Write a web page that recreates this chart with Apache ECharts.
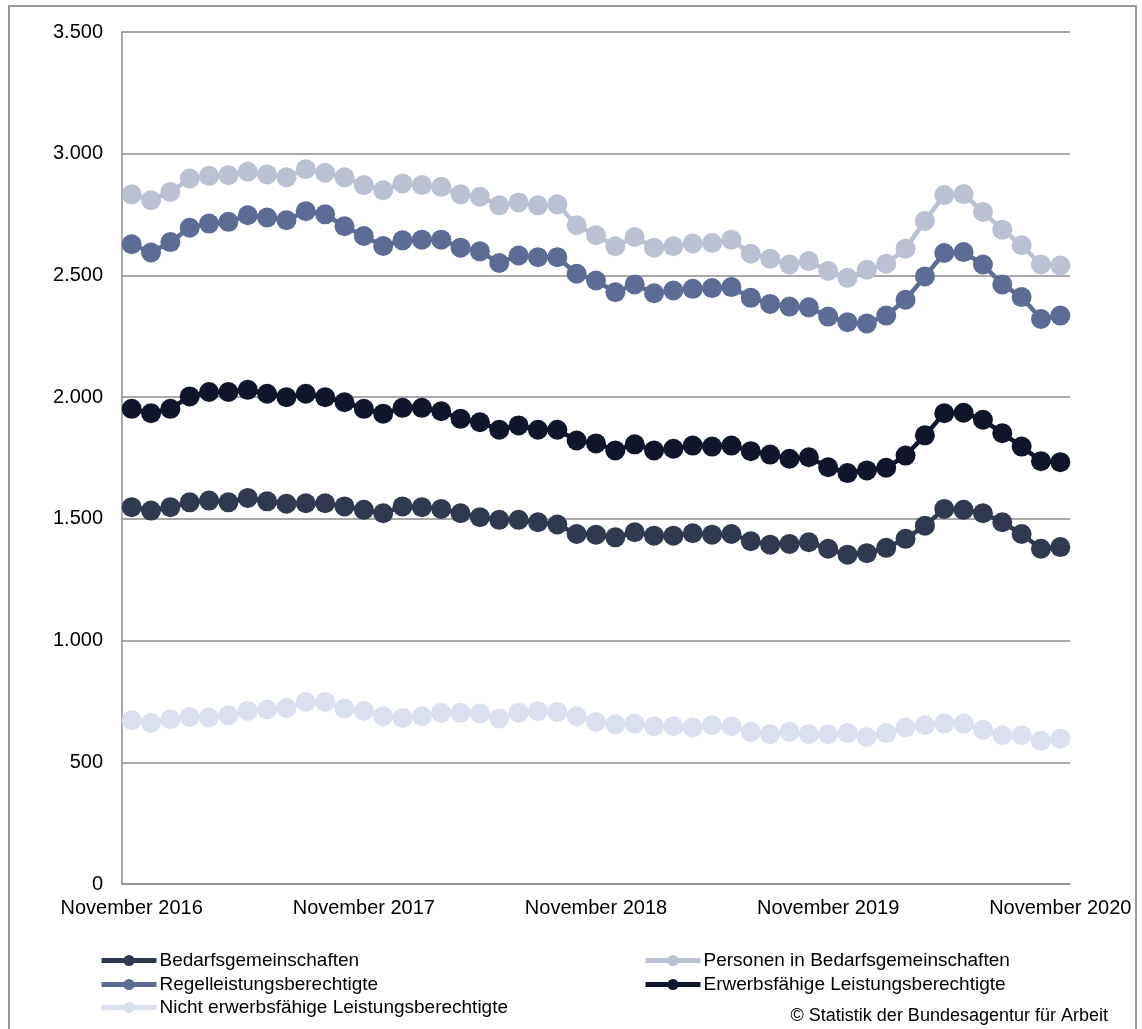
<!DOCTYPE html>
<html>
<head>
<meta charset="utf-8">
<title>Bedarfsgemeinschaften</title>
<script src="https://cdn.jsdelivr.net/npm/echarts@6/dist/echarts.min.js"></script>
<style>
  html, body { margin: 0; padding: 0; background: #fff; }
  #chart { width: 1142px; height: 1029px; }
</style>
</head>
<body>
<div id="chart"></div>
<script>
// Monate November 2016 bis November 2020 (in Tausend)
const monthNames = ['Januar', 'Februar', 'März', 'April', 'Mai', 'Juni', 'Juli', 'August', 'September', 'Oktober', 'November', 'Dezember']
const months = []
for (let i = 0; i < 49; i++) {
  const m = (10 + i) % 12
  const y = 2016 + Math.floor((10 + i) / 12)
  months.push(monthNames[m] + ' ' + y)
}

const bedarfsgemeinschaften = [
  1548, 1534, 1548, 1568, 1575, 1568, 1586, 1572, 1562, 1564, 1564, 1551,
  1537, 1523, 1551, 1548, 1541, 1523, 1507, 1496, 1496, 1486, 1477, 1438,
  1435, 1424, 1445, 1431, 1431, 1441, 1435, 1438, 1408, 1394, 1397, 1404,
  1377, 1353, 1359, 1381, 1418, 1472, 1541, 1537, 1523, 1486, 1438, 1377,
  1384
]
const personen = [
  2833, 2809, 2843, 2898, 2909, 2912, 2926, 2915, 2903, 2936, 2922, 2903,
  2871, 2850, 2878, 2871, 2864, 2833, 2823, 2788, 2800, 2788, 2792, 2706,
  2665, 2620, 2658, 2614, 2620, 2631, 2633, 2647, 2589, 2569, 2545, 2559,
  2518, 2490, 2523, 2548, 2610, 2724, 2830, 2834, 2761, 2688, 2624, 2545,
  2541
]
const regelleistung = [
  2628, 2594, 2637, 2696, 2713, 2720, 2747, 2738, 2727, 2764, 2751, 2702,
  2662, 2621, 2644, 2647, 2647, 2614, 2599, 2551, 2582, 2575, 2575, 2507,
  2479, 2431, 2463, 2427, 2438, 2445, 2448, 2452, 2408, 2383, 2372, 2369,
  2331, 2308, 2303, 2335, 2400, 2496, 2592, 2596, 2545, 2463, 2411, 2321,
  2335
]
const erwerbsfaehige = [
  1952, 1934, 1952, 2003, 2021, 2021, 2030, 2014, 2000, 2014, 2000, 1979,
  1952, 1932, 1956, 1956, 1942, 1911, 1897, 1866, 1884, 1866, 1866, 1822,
  1810, 1781, 1806, 1781, 1788, 1801, 1797, 1801, 1778, 1764, 1747, 1753,
  1712, 1688, 1699, 1710, 1760, 1843, 1934, 1936, 1907, 1852, 1797, 1737,
  1733
]
const nichtErwerbsfaehige = [
  673, 662, 677, 686, 684, 693, 711, 717, 723, 748, 748, 721,
  711, 689, 682, 689, 703, 703, 700, 680, 704, 710, 707, 689,
  666, 656, 659, 648, 648, 643, 652, 648, 625, 615, 625, 615,
  615, 620, 604, 620, 643, 652, 659, 659, 634, 611, 611, 588,
  597
]

const seriesList = [
  { name: 'Bedarfsgemeinschaften', data: bedarfsgemeinschaften, color: '#2f394f' },
  { name: 'Personen in Bedarfsgemeinschaften', data: personen, color: '#b9c1d3' },
  { name: 'Regelleistungsberechtigte', data: regelleistung, color: '#5d6c95' },
  { name: 'Erwerbsfähige Leistungsberechtigte', data: erwerbsfaehige, color: '#0f162b' },
  { name: 'Nicht erwerbsfähige Leistungsberechtigte', data: nichtErwerbsfaehige, color: '#dae0ef' }
]

// Legende: zwei Spalten, jeweils ein Eintrag pro Zeile
const legendSlots = [
  { left: 99, top: 951 },
  { left: 643, top: 951 },
  { left: 99, top: 975 },
  { left: 643, top: 975 },
  { left: 99, top: 998 }
]

const gridColor = '#8c8c8c'
const fontFamily = 'Liberation Sans, Arial, sans-serif'

const chart = echarts.init(document.getElementById('chart'))

chart.setOption({
  animation: false,
  backgroundColor: '#fff',
  grid: { left: 122, right: 72, top: 32, bottom: 145 },
  legend: seriesList.map((s, i) => ({
    left: legendSlots[i].left,
    top: legendSlots[i].top,
    padding: 0,
    itemWidth: 55,
    itemHeight: 14,
    itemGap: 4,
    data: [s.name],
    lineStyle: { width: 5 },
    textStyle: { fontFamily: fontFamily, fontSize: 19, color: '#000', padding: [0, 0, 0, -2] }
  })),
  xAxis: {
    type: 'category',
    data: months,
    boundaryGap: true,
    axisLine: { lineStyle: { color: gridColor, width: 1.5 } },
    axisTick: { interval: 11, length: 6, lineStyle: { color: gridColor, width: 1.5 } },
    axisLabel: {
      interval: 11,
      margin: 14,
      color: '#000',
      fontFamily: fontFamily,
      fontSize: 20
    },
    splitLine: { show: false }
  },
  yAxis: {
    type: 'value',
    min: 0,
    max: 3500,
    interval: 500,
    axisLine: { show: true, lineStyle: { color: gridColor, width: 1.5 } },
    axisTick: { show: false },
    axisLabel: {
      margin: 19,
      color: '#000',
      fontFamily: fontFamily,
      fontSize: 20,
      formatter: v => String(v).replace(/\B(?=(\d{3})+(?!\d))/g, '.')
    },
    splitLine: { lineStyle: { color: gridColor, width: 1.5 } }
  },
  series: seriesList.map(s => ({
    name: s.name,
    type: 'line',
    data: s.data,
    symbol: 'circle',
    symbolSize: 20,
    showAllSymbol: true,
    color: s.color,
    itemStyle: { color: s.color },
    lineStyle: { color: s.color, width: 4.5 }
  })),
  graphic: [
    {
      type: 'rect',
      shape: { x: 9, y: 6, width: 1127, height: 1040 },
      style: { fill: 'none', stroke: '#9a9a9a', lineWidth: 2 },
      silent: true
    },
    {
      type: 'text',
      right: 34,
      top: 1007,
      style: {
        text: '© Statistik der Bundesagentur für Arbeit',
        fontFamily: fontFamily,
        fontSize: 18,
        fill: '#000'
      }
    }
  ]
})
</script>
</body>
</html>
